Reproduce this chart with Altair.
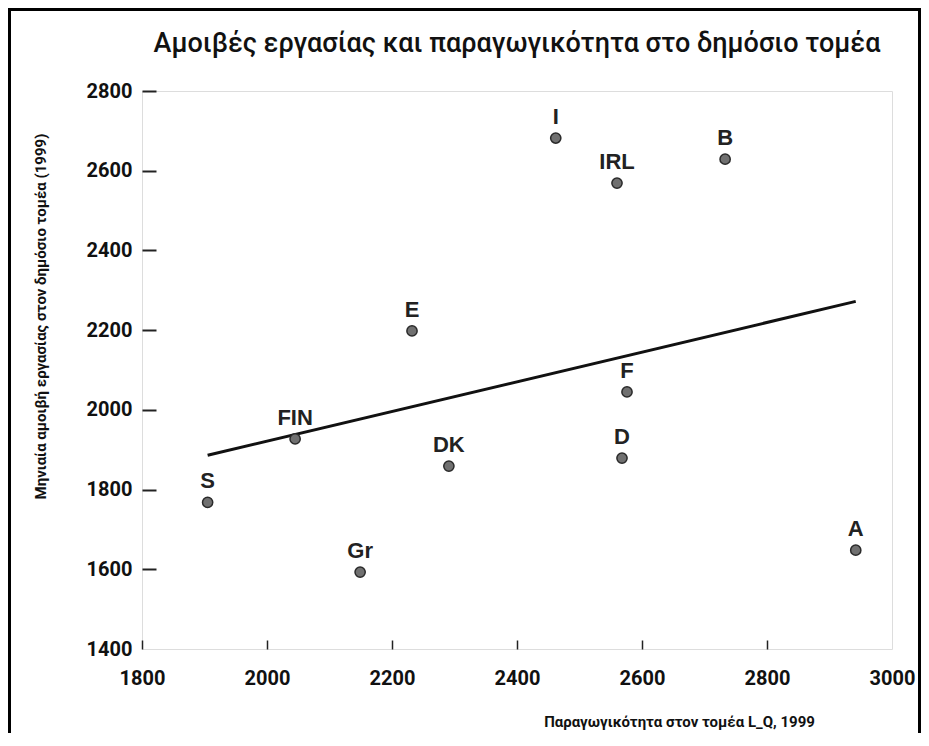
import altair as alt
import pandas as pd

countries = ["S", "FIN", "Gr", "E", "DK", "I", "IRL", "B", "F", "D", "A"]
productivity = [1905, 2045, 2149, 2232, 2291, 2462, 2560, 2733, 2576, 2568, 2942]
wages = [1768, 1927, 1593, 2198, 1859, 2682, 2569, 2629, 2045, 1879, 1648]

x_ticks = [1800, 2000, 2200, 2400, 2600, 2800, 3000]
y_ticks = [1400, 1600, 1800, 2000, 2200, 2400, 2600, 2800]

title_text = "Αμοιβές εργασίας και παραγωγικότητα στο δημόσιο τομέα"
x_title = "Παραγωγικότητα στον τομέα L_Q, 1999"
y_title = "Μηνιαία αμοιβή εργασίας στον δημόσιο τομέα (1999)"

df = pd.DataFrame({"country": countries, "prod": productivity, "wage": wages})

FONT = "Roboto, Liberation Sans, sans-serif"
W, H = 750, 558

xscale = alt.Scale(domain=[1800, 3000], nice=False, zero=False)
yscale = alt.Scale(domain=[1400, 2800], nice=False, zero=False)

xaxis = alt.Axis(
    values=x_ticks, title=x_title, domain=False, grid=False, format="d",
    tickSize=9, offset=-9, tickWidth=1.5, tickColor="#222",
    tickOpacity={"condition": {"test": "datum.value === 3000", "value": 0}, "value": 1},
    labelPadding=19, labelFont=FONT, labelFontSize=20, labelFontWeight="bold",
    labelColor="#111", labelFlush=False,
    titleFont=FONT, titleFontSize=15, titleFontWeight="bold", titleColor="#111",
    titleX=537, titleY=81, titleAnchor="middle", titleBaseline="middle",
)
yaxis = alt.Axis(
    values=y_ticks, title=y_title, domain=False, grid=False, format="d",
    tickSize=14, offset=-14, tickWidth=2, tickColor="#222",
    tickOpacity={"condition": {"test": "datum.value === 1400", "value": 0}, "value": 1},
    labelPadding=10, labelFont=FONT, labelFontSize=20, labelFontWeight="bold",
    labelColor="#111", labelFlush=False,
    titleFont=FONT, titleFontSize=15, titleFontWeight="bold", titleColor="#111",
    titleAngle=270, titleX=-116, titleY=225, titleAnchor="middle", titleBaseline="middle",
)

base = alt.Chart(df)

points = base.mark_point(
    filled=True, size=105, color="#707070", stroke="#2a2a2a", strokeWidth=1.5, opacity=1
).encode(
    x=alt.X("prod:Q", scale=xscale, axis=xaxis),
    y=alt.Y("wage:Q", scale=yscale, axis=yaxis),
)

labels = base.mark_text(
    font="Liberation Sans, Arial, sans-serif", fontSize=22, fontWeight="bold",
    color="#222", baseline="alphabetic", align="center", dy=-14,
).encode(
    x=alt.X("prod:Q", scale=xscale),
    y=alt.Y("wage:Q", scale=yscale),
    text="country:N",
)

reg = base.transform_regression("prod", "wage").mark_line(
    color="#111", strokeWidth=3
).encode(
    x=alt.X("prod:Q", scale=xscale),
    y=alt.Y("wage:Q", scale=yscale),
)

frame = alt.Chart(alt.Data(values=[{"a": 1}])).mark_rect(
    filled=False, stroke="#000", strokeWidth=3
).encode(
    x=alt.value(-132.5), x2=alt.value(777.5),
    y=alt.value(-81.5), y2=alt.value(700),
)

chart = alt.layer(reg, points, labels, frame).properties(
    width=W, height=H,
    title=alt.TitleParams(
        title_text, font=FONT, fontSize=27, fontWeight=500,
        color="#111", anchor="middle", offset=0, dy=50,
    ),
    autosize=alt.AutoSizeParams(type="none"),
    padding={"left": 134, "top": 83, "right": 29, "bottom": 84},
).configure_view(stroke=None).configure(background="white")

chart.save("out.html", embed_options={"renderer": "svg", "actions": False})
